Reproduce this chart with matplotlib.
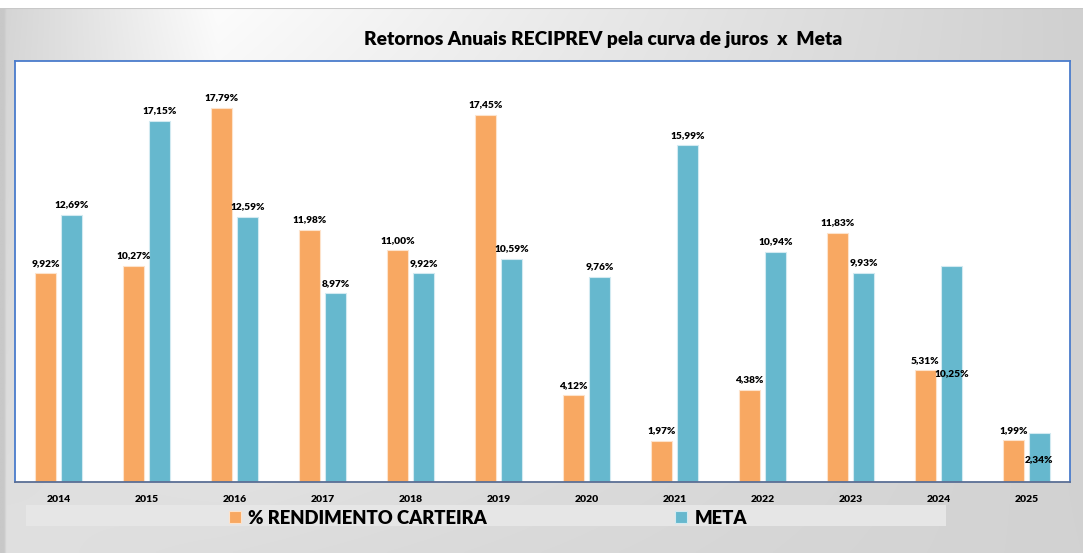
import matplotlib.pyplot as plt
import numpy as np

anos = ['2014', '2015', '2016', '2017', '2018', '2019',
        '2020', '2021', '2022', '2023', '2024', '2025']
rendimento = [9.92, 10.27, 17.79, 11.98, 11.00, 17.45,
              4.12, 1.97, 4.38, 11.83, 5.31, 1.99]
meta = [12.69, 17.15, 12.59, 8.97, 9.92, 10.59,
        9.76, 15.99, 10.94, 9.93, 10.25, 2.34]

cor_rend = '#F8A862'
cor_meta = '#66B8CE'
fonte = ['Lato', 'DejaVu Sans']
plt.rcParams['font.family'] = fonte

W, H = 1083, 553
fig = plt.figure(figsize=(W / 100, H / 100), dpi=100)
fig.patch.set_facecolor('white')

# fundo cinza em degradê (estilo Excel)
bg_h = H - 8
bg = fig.add_axes([0, 0, 1, bg_h / H])
bg.set_axis_off()
bg.set_xlim(0, 1)
bg.set_ylim(0, 1)
xs = np.linspace(0, 1, 400)
ys = np.linspace(0, 1, 200)[:, None]
topo = np.where(xs < 0.2, 212 + 40 * xs / 0.2, 252 - 44 * (xs - 0.2) / 0.8)
base = 224 - 14 * xs
img = topo[None, :] * (1 - ys) + base[None, :] * ys
img[:, :2] = 200
bg.imshow(np.dstack([img, img, img]) / 255, aspect='auto', extent=[0, 1, 0, 1],
          origin='upper', interpolation='bilinear')
bg.axhline(1, color='#c8c8c8', lw=1.5)
# faixa da legenda
bg.add_patch(plt.Rectangle((26 / W, 1 - (526 - 8) / bg_h), (946 - 26) / W,
                           21 / bg_h, facecolor='#e6e6e6', edgecolor='none'))

ax = fig.add_axes([15 / W, (H - 482) / H, (1070 - 15) / W, (482 - 61) / H])
ax.set_facecolor('white')

x = np.arange(len(anos))
larg = 0.24
desl = 0.148
b1 = ax.bar(x - desl, rendimento, larg, color=cor_rend, edgecolor='#fde3cc',
            linewidth=0.8, label='% RENDIMENTO CARTEIRA', zorder=2)
b2 = ax.bar(x + desl, meta, larg, color=cor_meta, edgecolor='#d2eaf1',
            linewidth=0.8, label='META', zorder=2)

ax.set_xlim(-0.495, len(anos) - 0.505)
ax.set_ylim(0, 20)
ax.set_yticks([])
ax.set_xticks(x)
ax.set_xticklabels(anos, fontsize=7.5, fontweight='heavy')
ax.tick_params(axis='x', length=0, pad=9)

for s in ['left', 'top', 'right']:
    ax.spines[s].set_color('#4a7ccc')
    ax.spines[s].set_linewidth(1.3)
ax.spines['bottom'].set_color('#5b6f95')
ax.spines['bottom'].set_linewidth(1.3)


def fmt(v):
    return f'{v:.2f}%'.replace('.', ',')


for i, v in enumerate(rendimento):
    ax.annotate(fmt(v), (x[i] - desl, v), xytext=(0, 4), textcoords='offset points',
                ha='center', va='bottom', fontsize=7.3, fontweight='heavy')
for i, v in enumerate(meta):
    if anos[i] == '2024':
        ax.text(x[i] + desl, 5.13, fmt(v), ha='center', va='center',
                fontsize=7.3, fontweight='heavy')
    elif anos[i] == '2025':
        ax.text(x[i] + desl, 1.09, fmt(v), ha='center', va='center',
                fontsize=7.3, fontweight='heavy')
    else:
        ax.annotate(fmt(v), (x[i] + desl, v), xytext=(0, 4), textcoords='offset points',
                    ha='center', va='bottom', fontsize=7.3, fontweight='heavy')

fig.text(603.5 / W, 1 - 40 / H, 'Retornos Anuais RECIPREV pela curva de juros  x  Meta',
         ha='center', va='center', fontsize=13.8, fontweight='heavy')

fig.legend(handles=[b1, b2], loc='center', bbox_to_anchor=(488 / W, 1 - 518 / H),
           ncol=2, frameon=False, prop={'family': fonte, 'weight': 'heavy', 'size': 13.3},
           handlelength=0.65, handleheight=0.65, handletextpad=0.4, columnspacing=10.2)

fig.savefig('out.png', dpi=100)
